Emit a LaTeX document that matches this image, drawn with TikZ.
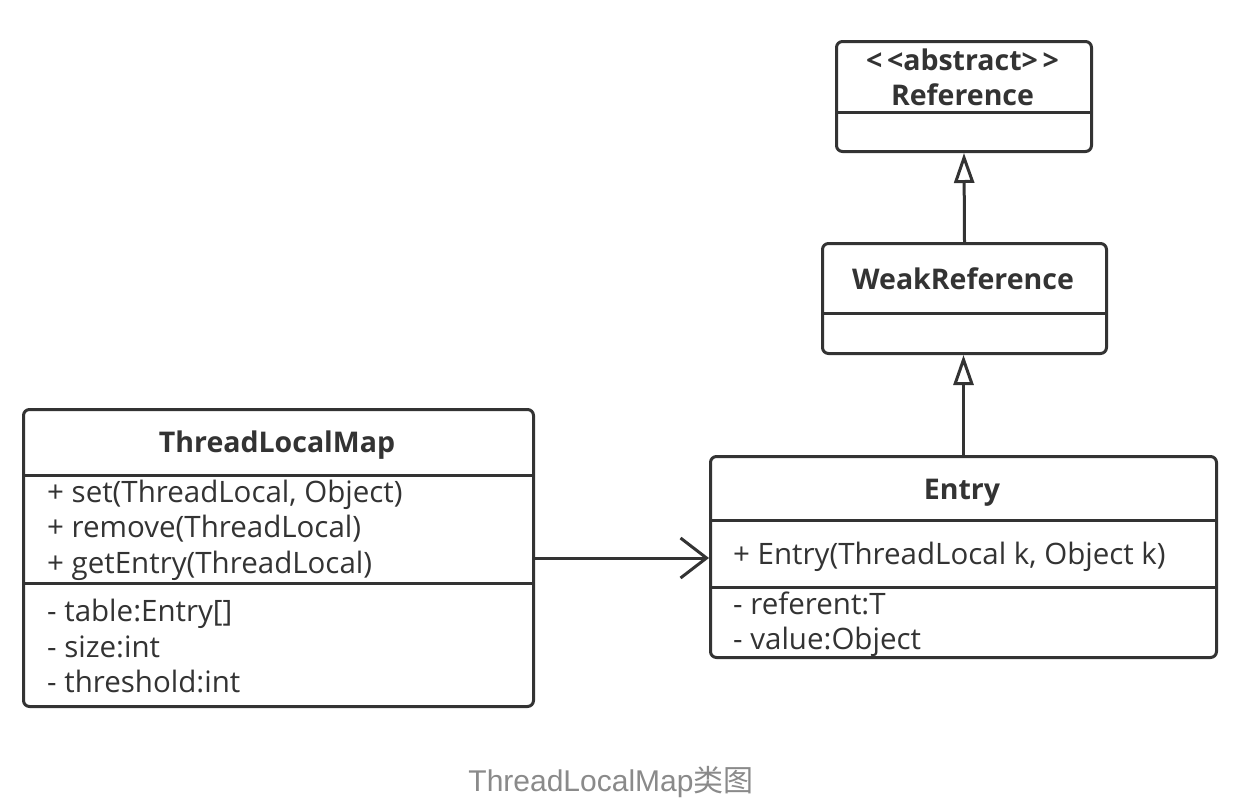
\documentclass[tikz,border=0pt]{standalone}
\usepackage{fontspec}
\setmainfont{Open Sans}
\newfontfamily\capfont{Liberation Sans}
\newfontfamily\cjkfont{Noto Sans CJK SC}
\usetikzlibrary{arrows.meta}
\definecolor{ink}{HTML}{333333}
\definecolor{capgray}{HTML}{8A8A8A}
\tikzset{
  umlbox/.style={draw=ink, line width=3pt, rounded corners=6pt, anchor=north west, inner sep=0pt},
  divider/.style={draw=ink, line width=3pt},
  ttl/.style={font=\fontsize{28.5}{32}\selectfont\bfseries, text=ink, anchor=base, inner sep=0pt},
  member/.style={font=\fontsize{29.5}{33}\selectfont, text=ink, anchor=base west, inner sep=0pt},
  inherit/.style={draw=ink, line width=3pt, -{Triangle[open, length=30pt, width=20pt]}},
  assoc/.style={draw=ink, line width=3pt, -{Straight Barb[length=26pt, width=40pt]}},
}
\begin{document}
\begin{tikzpicture}[x=1pt,y=-1pt]
\useasboundingbox[fill=white] (0,0) rectangle (1242,804);

% Reference
\node[umlbox, minimum width=255pt, minimum height=110pt] (ref) at (835,40) {};
\draw[divider] (ref.west |- 0,112) -- (ref.east |- 0,112);
\node[ttl] (refst) at (962.5,70) {\textless\,\textless abstract\textgreater\,\textgreater};
\node[ttl] (refname) at (962.5,105) {Reference};

% WeakReference
\node[umlbox, minimum width=284pt, minimum height=110pt] (weak) at (821,242) {};
\draw[divider] (weak.west |- 0,313) -- (weak.east |- 0,313);
\node[ttl] (weakname) at (963,289) {WeakReference};

% ThreadLocalMap
\node[umlbox, minimum width=510pt, minimum height=297pt] (tlm) at (22,408) {};
\draw[divider] (tlm.west |- 0,475) -- (tlm.east |- 0,475);
\draw[divider] (tlm.west |- 0,583) -- (tlm.east |- 0,583);
\node[ttl] (tlmname) at (277,452) {ThreadLocalMap};
\node[member] (m1) at (47,502.5) {+ set(ThreadLocal, Object)};
\node[member] (m2) at (47,537.5) {+ remove(ThreadLocal)};
\node[member] (m3) at (47,573.5) {+ getEntry(ThreadLocal)};
\node[member] (f1) at (47,621.5) {- table:Entry[]};
\node[member] (f2) at (47,657.5) {- size:int};
\node[member] (f3) at (47,692.5) {- threshold:int};

% Entry
\node[umlbox, minimum width=506pt, minimum height=201pt] (entry) at (709,455) {};
\draw[divider] (entry.west |- 0,520) -- (entry.east |- 0,520);
\draw[divider] (entry.west |- 0,587) -- (entry.east |- 0,587);
\node[ttl] (entryname) at (962,499) {Entry};
\node[member] (em1) at (733,564.5) {+ Entry(ThreadLocal k, Object k)};
\node[member] (ef1) at (733,614.5) {- referent:T};
\node[member] (ef2) at (733,649.5) {- value:Object};

% connectors
\draw[inherit] (weak.north) -- (ref.south);
\draw[inherit] (entry.north) -- (entry.north |- weak.south);
\draw[assoc] (tlm.east) -- (tlm.east -| entry.west);

% caption
\node[font=\capfont\fontsize{30}{34}\selectfont, text=capgray] (cap) at (611,782) {ThreadLocalMap{\cjkfont 类图}};
\end{tikzpicture}
\end{document}
